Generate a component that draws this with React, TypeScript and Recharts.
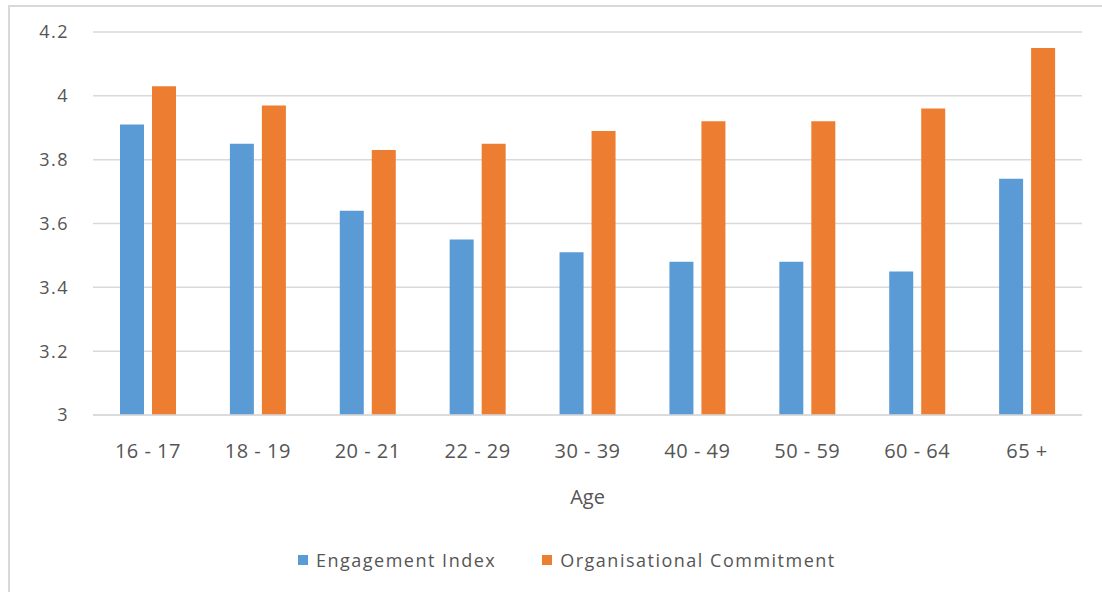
import React from 'react';
import { BarChart, Bar, XAxis, YAxis, CartesianGrid, Legend } from 'recharts';

const categories = ['16 - 17', '18 - 19', '20 - 21', '22 - 29', '30 - 39', '40 - 49', '50 - 59', '60 - 64', '65 +'];
const engagementIndex = [3.91, 3.85, 3.64, 3.55, 3.51, 3.48, 3.48, 3.45, 3.74];
const organisationalCommitment = [4.03, 3.97, 3.83, 3.85, 3.89, 3.92, 3.92, 3.96, 4.15];
const yTicks = [3, 3.2, 3.4, 3.6, 3.8, 4, 4.2];

const data = categories.map((age, i) => ({
  age,
  engagement: engagementIndex[i],
  commitment: organisationalCommitment[i],
}));

const FONT = '"Open Sans", "Noto Sans", sans-serif';
const TEXT = '#555555';
const GRID = '#D9D9D9';

const renderLegend = (props: any) => {
  const payload = props.payload || [];
  return (
    <div style={{ display: 'flex', alignItems: 'center', fontFamily: FONT, fontSize: 18, color: TEXT, letterSpacing: 1.5 }}>
      {payload.map((p: any, i: number) => (
        <div key={i} style={{ display: 'flex', alignItems: 'center', marginRight: i === 0 ? 46 : 0 }}>
          <span style={{ display: 'inline-block', width: 10, height: 10, background: p.color, marginRight: 8 }} />
          <span>{p.value}</span>
        </div>
      ))}
    </div>
  );
};

export default function App() {
  return (
    <div style={{ position: 'absolute', left: 0, top: 0, width: 1102, height: 592, background: '#fff', overflow: 'hidden' }}>
      <div style={{ position: 'absolute', left: 8, top: 5, width: 1200, height: 700, border: `2px solid ${GRID}`, boxSizing: 'border-box' }} />
      <div style={{ position: 'absolute', left: 0, top: 0 }}>
        <BarChart
          width={1102}
          height={592}
          data={data}
          margin={{ top: 32, right: 20, left: 0, bottom: 77 }}
          barSize={24}
          barGap={8}
        >
          <CartesianGrid vertical={false} stroke={GRID} strokeWidth={1.5} />
          <XAxis
            dataKey="age"
            height={100}
            axisLine={{ stroke: GRID, strokeWidth: 1.5 }}
            tickLine={false}
            tickMargin={23}
            tick={{ fill: TEXT, fontSize: 20, fontFamily: FONT, letterSpacing: 0.5 }}
            label={{ value: 'Age', position: 'insideBottom', offset: 11, fill: TEXT, fontSize: 20, fontFamily: FONT }}
          />
          <YAxis
            domain={[3, 4.2]}
            ticks={yTicks}
            width={93}
            axisLine={false}
            tickLine={false}
            tickMargin={18}
            tick={{ fill: TEXT, fontSize: 18, fontFamily: FONT, letterSpacing: 1.5 }}
          />
          <Legend
            layout="horizontal"
            verticalAlign="middle"
            align="center"
            wrapperStyle={{ left: 298, top: 548, width: 'auto' }}
            content={renderLegend}
          />
          <Bar dataKey="engagement" name="Engagement Index" fill="#5B9BD5" isAnimationActive={false} />
          <Bar dataKey="commitment" name="Organisational Commitment" fill="#ED7D31" isAnimationActive={false} />
        </BarChart>
      </div>
    </div>
  );
}
